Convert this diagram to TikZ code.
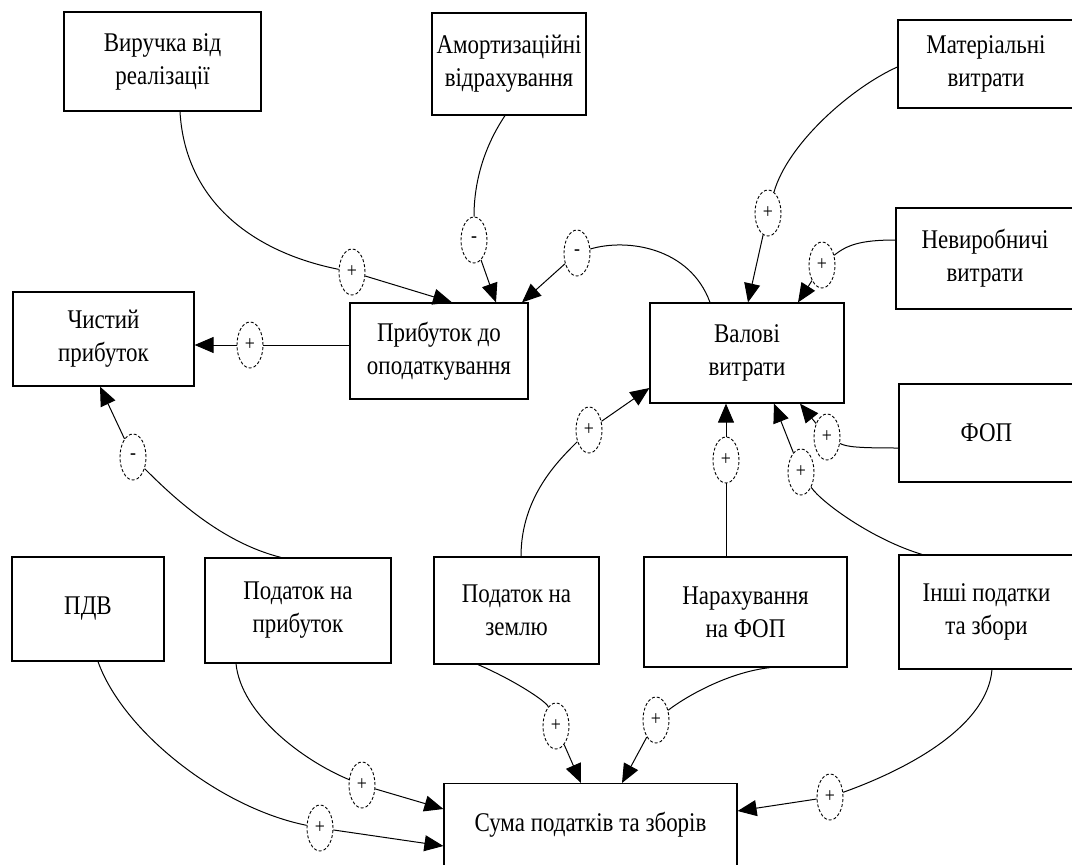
\documentclass[tikz,border=0pt]{standalone}
\usepackage{fontspec}
\setmainfont{Liberation Serif}[FakeStretch=0.85]
\usetikzlibrary{arrows.meta, shapes.geometric}

\begin{document}
\begin{tikzpicture}[
    x=1pt, y=-1pt,
    box/.style={draw, line width=1.2pt, align=center, inner sep=0pt, font=\fontsize{27}{33}\selectfont},
    sign/.style={draw, ellipse, dash pattern=on 3pt off 2pt, line width=0.9pt, minimum width=26pt, minimum height=46pt, inner sep=0pt, fill=white, font=\fontsize{21}{21}\selectfont},
    link/.style={line width=1pt},
    arrow/.style={link, -{Triangle[length=19pt, width=16pt]}},
]
\useasboundingbox (0, 0) rectangle (1072, 865);

\node[box, minimum width=197pt, minimum height=99pt] (vyruchka) at (162.5, 61.5) {Виручка від\\реалізації};
\node[box, minimum width=154pt, minimum height=102pt] (amort) at (509, 64) {Амортизаційні\\відрахування};
\node[box, minimum width=176pt, minimum height=88pt] (mater) at (986, 64) {Матеріальні\\витрати};
\node[box, minimum width=178pt, minimum height=101pt] (nevyr) at (985, 258.5) {Невиробничі\\витрати};
\node[box, minimum width=181pt, minimum height=94pt] (chystyi) at (103.5, 339) {Чистий\\прибуток};
\node[box, minimum width=178pt, minimum height=96pt] (prybutok) at (439, 351) {Прибуток до\\оподаткування};
\node[box, minimum width=194pt, minimum height=100pt] (valovi) at (747, 353) {Валові\\витрати};
\node[box, minimum width=175pt, minimum height=98pt] (fop) at (986.5, 433) {ФОП};
\node[box, minimum width=152pt, minimum height=104pt] (pdv) at (88, 609) {ПДВ};
\node[box, minimum width=186pt, minimum height=105pt] (podprib) at (298, 610.5) {Податок на\\прибуток};
\node[box, minimum width=165pt, minimum height=107pt] (podzem) at (516.5, 610.5) {Податок на\\землю};
\node[box, minimum width=203pt, minimum height=110pt] (narah) at (745.5, 612) {Нарахування\\на ФОП};
\node[box, minimum width=175pt, minimum height=114pt] (inshi) at (986.5, 612) {Інші податки\\та збори};
\node[box, anchor=north, minimum width=293pt, minimum height=160pt, text height=19pt, text depth=83pt] (suma) at (590.5, 783) {Сума податків та зборів};

\node[sign] (s1) at (352, 272) {+};
\node[sign] (s2) at (474, 240) {-};
\node[sign] (s3) at (577, 253) {-};
\node[sign] (s4) at (768, 213) {+};
\node[sign] (s5) at (822, 265) {+};
\node[sign] (s6) at (250, 345) {+};
\node[sign] (s7) at (133, 457) {-};
\node[sign] (s8) at (589, 430) {+};
\node[sign] (s9) at (726, 460) {+};
\node[sign] (s10) at (801, 472) {+};
\node[sign] (s11) at (827, 437) {+};
\node[sign] (s12) at (320, 828) {+};
\node[sign] (s13) at (362, 785) {+};
\node[sign] (s14) at (556, 726) {+};
\node[sign] (s15) at (656, 720) {+};
\node[sign] (s16) at (830, 797) {+};

% into the profit before tax
\draw[link] ([xshift=17.5pt]vyruchka.south) .. controls +(5, 89) and +(-100, -20) .. (s1);
\draw[arrow] (s1) -- ([xshift=13pt]prybutok.north);
\draw[link] ([xshift=-4pt]amort.south) .. controls +(-20, 30) and +(0, -60) .. (s2);
\draw[arrow] (s2) -- ([xshift=57pt]prybutok.north);
\draw[link] ([xshift=-37pt]valovi.north) .. controls +(-20, -55) and +(50, -15) .. (s3);
\draw[arrow] (s3) -- ([xshift=83pt]prybutok.north);

% into the gross costs
\draw[link] ([yshift=-3pt]mater.west) .. controls +(-45, 20) and +(20, -70) .. (s4);
\draw[arrow] (s4) -- ([xshift=1pt]valovi.north);
\draw[link] ([yshift=18.5pt]nevyr.west) .. controls +(-35, 0) and +(25, -20) .. (s5);
\draw[arrow] (s5) -- ([xshift=51pt]valovi.north);
\draw[link] ([xshift=4.5pt]podzem.north) .. controls +(0, -60) and +(-30, 30) .. (s8);
\draw[arrow] (s8) -- ([yshift=-35pt]valovi.west);
\draw[link] ([xshift=-19.5pt]narah.north) -- (s9);
\draw[arrow] (s9) -- ([xshift=-21pt]valovi.south);
\draw[link] ([xshift=-64.5pt]inshi.north) .. controls +(-50, -15) and +(20, 30) .. (s10);
\draw[arrow] (s10) -- ([xshift=27pt]valovi.south);
\draw[link] ([yshift=-15pt]fop.west) .. controls +(-40, 0) and +(20, 10) .. (s11);
\draw[arrow] (s11) -- ([xshift=53pt]valovi.south);

% into the net profit
\draw[link] ([yshift=6pt]prybutok.west) -- (s6);
\draw[arrow] (s6) -- ([yshift=-6pt]chystyi.east);
\draw[link] ([xshift=-17pt]podprib.north) .. controls +(-60, -15) and +(40, 40) .. (s7);
\draw[arrow] (s7) -- ([xshift=-3.5pt]chystyi.south);

% into the sum of taxes
\draw[link] ([xshift=10pt]pdv.south) .. controls +(25, 70) and +(-100, -20) .. (s12);
\draw[arrow] (s12) -- ([yshift=-63pt]suma.north west);
\draw[link] ([xshift=-62pt]podprib.south) .. controls +(5, 50) and +(-60, -25) .. (s13);
\draw[arrow] (s13) -- ([yshift=-26pt]suma.north west);
\draw[link] ([xshift=-38.5pt]podzem.south) .. controls +(35, 15) and +(-10, -25) .. (s14);
\draw[arrow] (s14) -- ([xshift=-9.5pt]suma.north);
\draw[link] ([xshift=24.5pt]narah.south) .. controls +(-45, 5) and +(25, -20) .. (s15);
\draw[arrow] (s15) -- ([xshift=31.5pt]suma.north);
\draw[link] ([xshift=5.5pt]inshi.south) .. controls +(-5, 60) and +(70, -25) .. (s16);
\draw[arrow] (s16) -- ([yshift=-28pt]suma.north east);

\end{tikzpicture}
\end{document}
